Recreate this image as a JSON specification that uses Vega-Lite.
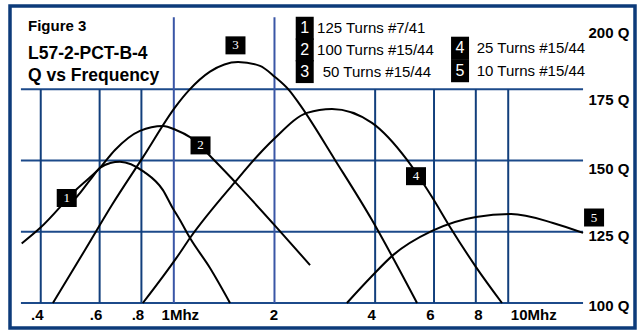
{
  "$schema": "https://vega.github.io/schema/vega-lite/v6.json",
  "width": 625,
  "height": 322,
  "autosize": {"type": "none"},
  "padding": {"left": 10, "top": 6, "right": 6, "bottom": 3},
  "background": "white",
  "config": {
    "view": {"stroke": "#0d3b7a", "strokeWidth": 3.5},
    "font": "Liberation Sans"
  },
  "title": {
    "text": "Figure 3",
    "subtitle": ["L57-2-PCT-B-4", "Q vs Frequency"],
    "anchor": "start",
    "frame": "group",
    "orient": "top",
    "offset": -78,
    "dx": 18,
    "font": "Liberation Sans",
    "fontSize": 15,
    "fontWeight": "bold",
    "color": "black",
    "subtitleFont": "Liberation Sans",
    "subtitleFontSize": 17.5,
    "subtitleFontWeight": "bold",
    "subtitleColor": "black",
    "subtitleLineHeight": 22,
    "subtitlePadding": 11
  },
  "datasets": {
    "curves": [
      {"series": "1", "f": 0.489, "q": 135.1},
      {"series": "1", "f": 0.513, "q": 137.3},
      {"series": "1", "f": 0.562, "q": 143.2},
      {"series": "1", "f": 0.601, "q": 147.4},
      {"series": "1", "f": 0.645, "q": 149.1},
      {"series": "1", "f": 0.690, "q": 149.6},
      {"series": "1", "f": 0.815, "q": 146.0},
      {"series": "1", "f": 0.928, "q": 139.6},
      {"series": "1", "f": 0.988, "q": 133.7},
      {"series": "1", "f": 1.043, "q": 129.1},
      {"series": "1", "f": 1.118, "q": 122.8},
      {"series": "1", "f": 1.283, "q": 112.3},
      {"series": "1", "f": 1.473, "q": 100},
      {"series": "2", "f": 0.3508, "q": 120.9},
      {"series": "2", "f": 0.398, "q": 126.3},
      {"series": "2", "f": 0.513, "q": 140.0},
      {"series": "2", "f": 0.601, "q": 147.4},
      {"series": "2", "f": 0.667, "q": 153.7},
      {"series": "2", "f": 0.792, "q": 160.4},
      {"series": "2", "f": 0.928, "q": 162.1},
      {"series": "2", "f": 1.015, "q": 160.7},
      {"series": "2", "f": 1.118, "q": 158.2},
      {"series": "2", "f": 1.301, "q": 150.9},
      {"series": "2", "f": 1.524, "q": 142.5},
      {"series": "2", "f": 2.038, "q": 126.3},
      {"series": "2", "f": 2.555, "q": 113.3},
      {"series": "3", "f": 0.435, "q": 100},
      {"series": "3", "f": 0.5425, "q": 118.6},
      {"series": "3", "f": 0.653, "q": 134.4},
      {"series": "3", "f": 0.809, "q": 151.2},
      {"series": "3", "f": 1.015, "q": 169.1},
      {"series": "3", "f": 1.111, "q": 174.7},
      {"series": "3", "f": 1.283, "q": 181.2},
      {"series": "3", "f": 1.556, "q": 184.6},
      {"series": "3", "f": 1.810, "q": 183.2},
      {"series": "3", "f": 2.007, "q": 179.3},
      {"series": "3", "f": 2.211, "q": 174.7},
      {"series": "3", "f": 2.385, "q": 169.5},
      {"series": "3", "f": 3.034, "q": 150.2},
      {"series": "3", "f": 3.914, "q": 129.1},
      {"series": "3", "f": 4.524, "q": 115.8},
      {"series": "3", "f": 5.338, "q": 100},
      {"series": "4", "f": 0.808, "q": 100},
      {"series": "4", "f": 1.022, "q": 116.1},
      {"series": "4", "f": 1.118, "q": 122.8},
      {"series": "4", "f": 1.526, "q": 142.5},
      {"series": "4", "f": 1.848, "q": 153.7},
      {"series": "4", "f": 2.007, "q": 157.9},
      {"series": "4", "f": 2.502, "q": 166.7},
      {"series": "4", "f": 2.972, "q": 168.1},
      {"series": "4", "f": 3.914, "q": 163.2},
      {"series": "4", "f": 4.983, "q": 150.2},
      {"series": "4", "f": 5.562, "q": 142.1},
      {"series": "4", "f": 5.917, "q": 137.2},
      {"series": "4", "f": 6.698, "q": 126.7},
      {"series": "4", "f": 8.012, "q": 112.6},
      {"series": "4", "f": 9.58, "q": 100},
      {"series": "5", "f": 3.293, "q": 100},
      {"series": "5", "f": 3.888, "q": 109.1},
      {"series": "5", "f": 4.524, "q": 116.8},
      {"series": "5", "f": 5.917, "q": 125.3},
      {"series": "5", "f": 8.012, "q": 130.2},
      {"series": "5", "f": 10.2, "q": 131.2},
      {"series": "5", "f": 13.61, "q": 128.1},
      {"series": "5", "f": 16.74, "q": 124.6}
    ],
    "marks": [
      {"n": "1", "f": 0.4784, "q": 136.8},
      {"n": "2", "f": 1.202, "q": 155.3},
      {"n": "3", "f": 1.529, "q": 190.4},
      {"n": "4", "f": 5.30, "q": 144.5},
      {"n": "5", "f": 18.06, "q": 130.0}
    ],
    "legendBoxes": [
      {"n": "1", "f": 2.463, "q": 196.4},
      {"n": "2", "f": 2.463, "q": 188.8},
      {"n": "3", "f": 2.463, "q": 181.2},
      {"n": "4", "f": 7.177, "q": 189.4},
      {"n": "5", "f": 7.177, "q": 181.5}
    ],
    "legendLabels": [
      {"label": "125 Turns #7/41", "f": 2.681, "q": 196.4},
      {"label": "100 Turns #15/44", "f": 2.681, "q": 188.8},
      {"label": "50 Turns #15/44", "f": 2.789, "q": 181.2},
      {"label": "25 Turns #15/44", "f": 8.05, "q": 189.4},
      {"label": "10 Turns #15/44", "f": 8.05, "q": 181.5}
    ],
    "hgrid": [{"q": 100}, {"q": 125}, {"q": 150}, {"q": 175}],
    "vgridShort": [{"f": 0.4}, {"f": 0.6}, {"f": 0.8}, {"f": 4}, {"f": 6}, {"f": 8}, {"f": 10}],
    "vgridTall": [{"f": 1}, {"f": 2}]
  },
  "layer": [
    {
      "data": {"name": "hgrid"},
      "mark": {"type": "rule", "color": "#1c4a8a", "strokeWidth": 2},
      "encoding": {
        "x": {"datum": 0.349, "type": "quantitative", "scale": {"type": "log", "domain": [0.3237, 23.94], "nice": false}},
        "x2": {"datum": 16.74},
        "y": {"field": "q", "type": "quantitative", "scale": {"domain": [91.23, 204.21], "nice": false, "zero": false}}
      }
    },
    {
      "data": {"name": "vgridShort"},
      "mark": {"type": "rule", "color": "#123f7c", "strokeWidth": 2},
      "encoding": {
        "x": {"field": "f", "type": "quantitative", "scale": {"type": "log", "domain": [0.3237, 23.94], "nice": false}},
        "y": {"datum": 100, "type": "quantitative", "scale": {"domain": [91.23, 204.21], "nice": false, "zero": false}},
        "y2": {"datum": 175}
      }
    },
    {
      "data": {"name": "vgridTall"},
      "mark": {"type": "rule", "color": "#3a56a6", "strokeWidth": 2},
      "encoding": {
        "x": {"field": "f", "type": "quantitative", "scale": {"type": "log", "domain": [0.3237, 23.94], "nice": false}},
        "y": {"datum": 100, "type": "quantitative", "scale": {"domain": [91.23, 204.21], "nice": false, "zero": false}},
        "y2": {"datum": 200.3}
      }
    },
    {
      "data": {"name": "curves"},
      "mark": {"type": "line", "interpolate": "monotone", "color": "black", "strokeWidth": 2},
      "encoding": {
        "x": {
          "field": "f", "type": "quantitative",
          "scale": {"type": "log", "domain": [0.3237, 23.94], "nice": false},
          "axis": {
            "title": null,
            "values": [0.4, 0.6, 0.8, 1, 2, 4, 6, 8, 10],
            "labelExpr": "datum.value < 1 ? '.' + round(datum.value * 10) : datum.value == 1 ? '1Mhz' : datum.value == 10 ? '10Mhz' : '' + datum.value",
            "domain": false, "ticks": false, "grid": false,
            "offset": -14, "labelPadding": 0, "labelBaseline": "middle",
            "labelFont": "Liberation Sans", "labelFontSize": 15, "labelFontWeight": "bold",
            "labelColor": "black",
            "labelOffset": {"condition": [{"test": "datum.value == 10", "value": 25}, {"test": "datum.value == 1", "value": 6}, {"test": "datum.value == 8", "value": 2}, {"test": "datum.value == 2", "value": -1}], "value": -4}
          }
        },
        "y": {
          "field": "q", "type": "quantitative",
          "scale": {"domain": [91.23, 204.21], "nice": false, "zero": false},
          "axis": {
            "title": null, "orient": "right",
            "values": [100, 125, 150, 175, 200],
            "labelExpr": "datum.value + ' Q'",
            "domain": false, "ticks": false, "grid": false,
            "offset": -49, "labelPadding": 2, "labelAlign": "left", "labelBaseline": "middle",
            "labelFont": "Liberation Sans", "labelFontSize": 15, "labelFontWeight": "bold",
            "labelColor": "black",
            "labelOffset": {"condition": [{"test": "datum.value == 200", "value": 15}, {"test": "datum.value == 175", "value": 10}, {"test": "datum.value == 150", "value": 8}, {"test": "datum.value == 125", "value": 4}], "value": 2}
          }
        },
        "detail": {"field": "series", "type": "nominal"}
      }
    },
    {
      "data": {"name": "marks"},
      "mark": {"type": "tick", "orient": "vertical", "thickness": 20, "size": 18, "fill": "black", "color": "black", "opacity": 1},
      "encoding": {
        "x": {"field": "f", "type": "quantitative", "scale": {"type": "log", "domain": [0.3237, 23.94], "nice": false}},
        "y": {"field": "q", "type": "quantitative", "scale": {"domain": [91.23, 204.21], "nice": false, "zero": false}}
      }
    },
    {
      "data": {"name": "marks"},
      "mark": {"type": "text", "font": "Liberation Serif", "fontSize": 13, "color": "white", "align": "center", "baseline": "middle"},
      "encoding": {
        "x": {"field": "f", "type": "quantitative", "scale": {"type": "log", "domain": [0.3237, 23.94], "nice": false}},
        "y": {"field": "q", "type": "quantitative", "scale": {"domain": [91.23, 204.21], "nice": false, "zero": false}},
        "text": {"field": "n"}
      }
    },
    {
      "data": {"name": "legendBoxes"},
      "mark": {"type": "tick", "orient": "vertical", "thickness": 18, "size": 23, "fill": "black", "color": "black", "opacity": 1},
      "encoding": {
        "x": {"field": "f", "type": "quantitative", "scale": {"type": "log", "domain": [0.3237, 23.94], "nice": false}},
        "y": {"field": "q", "type": "quantitative", "scale": {"domain": [91.23, 204.21], "nice": false, "zero": false}}
      }
    },
    {
      "data": {"name": "legendBoxes"},
      "mark": {"type": "text", "font": "Liberation Sans", "fontSize": 16, "color": "white", "align": "center", "baseline": "middle"},
      "encoding": {
        "x": {"field": "f", "type": "quantitative", "scale": {"type": "log", "domain": [0.3237, 23.94], "nice": false}},
        "y": {"field": "q", "type": "quantitative", "scale": {"domain": [91.23, 204.21], "nice": false, "zero": false}},
        "text": {"field": "n"}
      }
    },
    {
      "data": {"name": "legendLabels"},
      "mark": {"type": "text", "font": "Liberation Sans", "fontSize": 15, "color": "black", "align": "left", "baseline": "middle"},
      "encoding": {
        "x": {"field": "f", "type": "quantitative", "scale": {"type": "log", "domain": [0.3237, 23.94], "nice": false}},
        "y": {"field": "q", "type": "quantitative", "scale": {"domain": [91.23, 204.21], "nice": false, "zero": false}},
        "text": {"field": "label"}
      }
    }
  ]
}
